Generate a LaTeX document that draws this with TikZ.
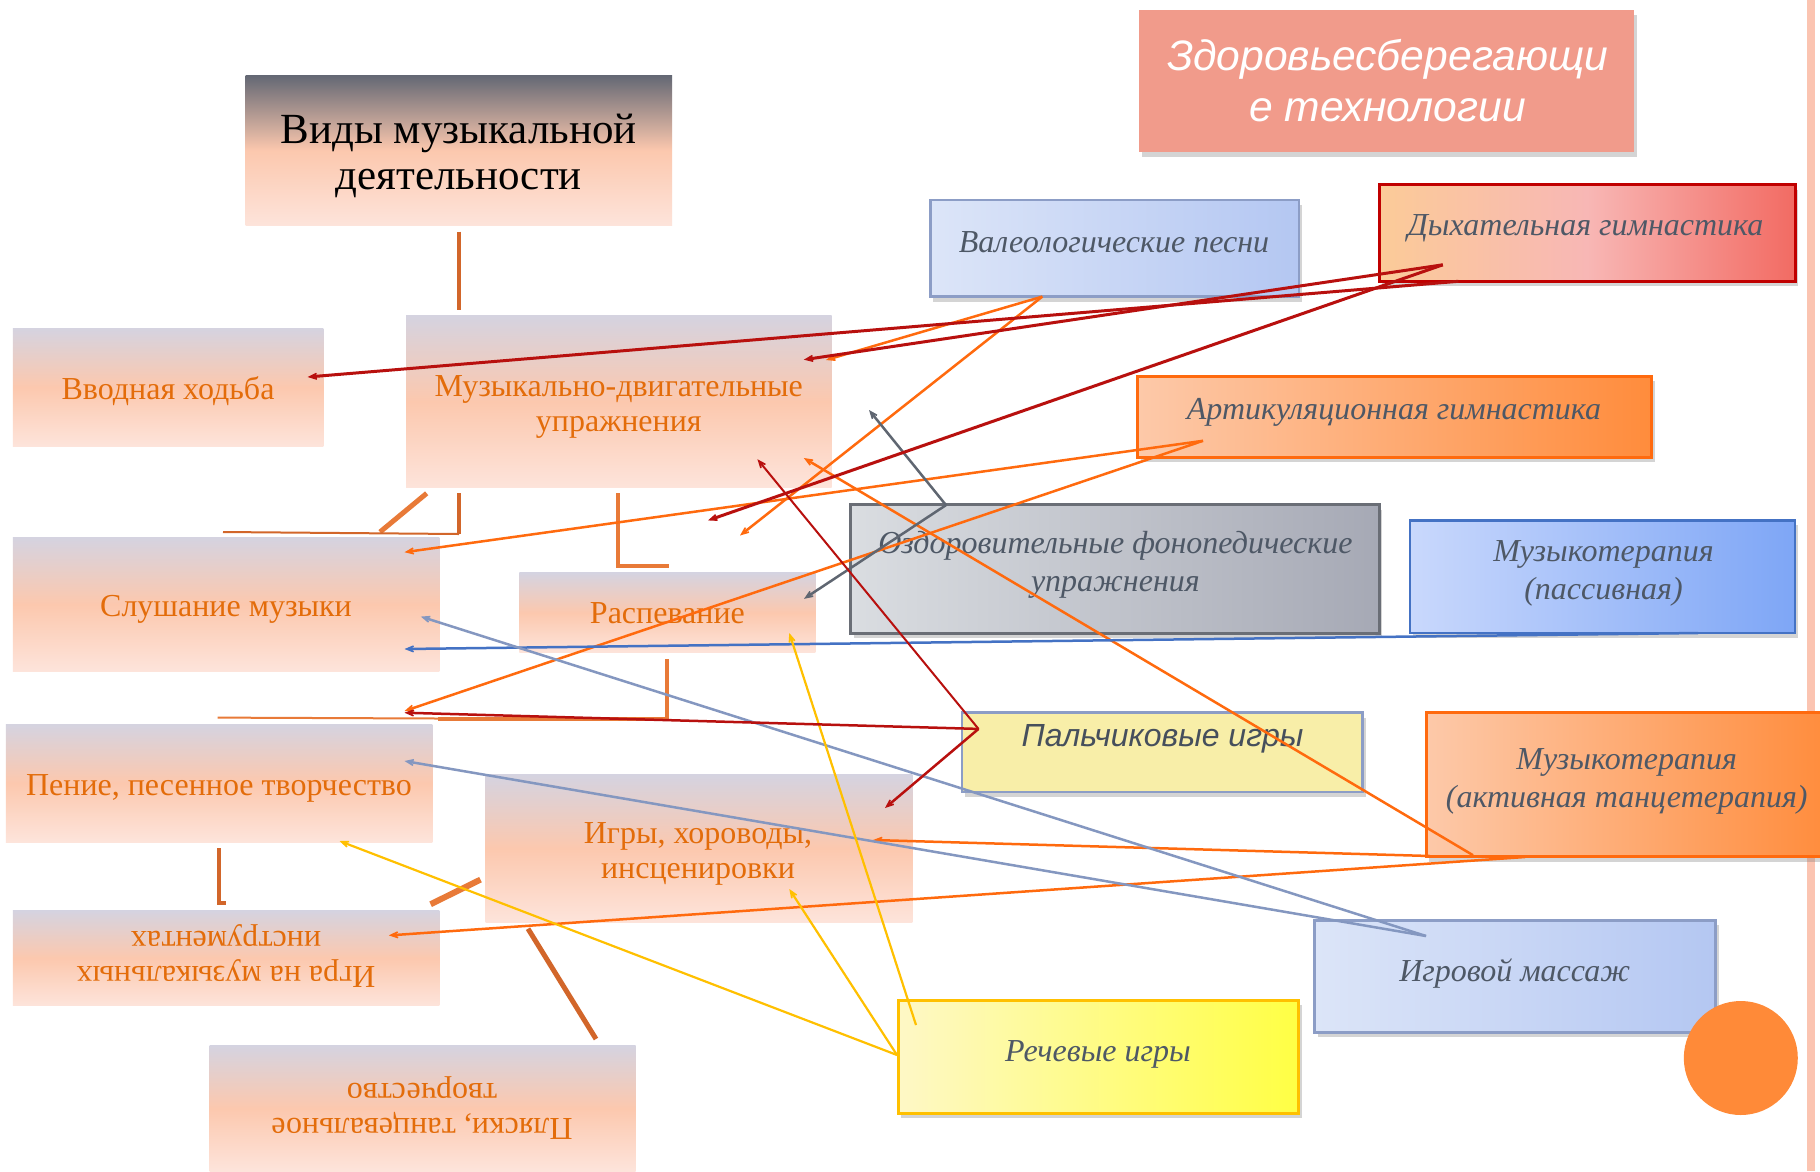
\documentclass[tikz,border=0pt]{standalone}
\usepackage{fontspec}
\setmainfont{Liberation Serif}
\newfontfamily\lsans{Liberation Sans}
\usetikzlibrary{arrows.meta,shadows}
\definecolor{pTop}{HTML}{D5D3E0}
\definecolor{pMid}{HTML}{FCC8AE}
\definecolor{pBot}{HTML}{FDE4DB}
\definecolor{vTop}{HTML}{646874}
\definecolor{ortext}{HTML}{E36C0A}
\definecolor{orgA}{HTML}{D2662A}
\definecolor{orgB}{HTML}{E87A38}
\definecolor{arRed}{HTML}{B8100E}
\definecolor{arOr}{HTML}{FF6A0E}
\definecolor{arGray}{HTML}{5F6671}
\definecolor{arBlue}{HTML}{4472C4}
\definecolor{arMas}{HTML}{8497C0}
\definecolor{arYel}{HTML}{FFC000}
\definecolor{gtext}{HTML}{4E5866}
\definecolor{stripc}{HTML}{FBC4B1}
\definecolor{zdorc}{HTML}{F19B8B}
\definecolor{blueB}{HTML}{8C9DC6}
\definecolor{lbL}{HTML}{DCE5F8}
\definecolor{lbR}{HTML}{B4C7F2}
\definecolor{dyL}{HTML}{FBCB98}
\definecolor{dyM}{HTML}{F8B7B5}
\definecolor{dyR}{HTML}{F26B63}
\definecolor{dyB}{HTML}{C00000}
\definecolor{orL}{HTML}{FDC9A9}
\definecolor{orR}{HTML}{FF8C3C}
\definecolor{gyL}{HTML}{DADDE1}
\definecolor{gyR}{HTML}{A6A9B5}
\definecolor{gyB}{HTML}{6A6E76}
\definecolor{bpL}{HTML}{C9D8FC}
\definecolor{bpR}{HTML}{7EA6F6}
\definecolor{palc}{HTML}{F8EEA8}
\definecolor{ryL}{HTML}{FEF8C6}
\definecolor{ryR}{HTML}{FFFF44}
\definecolor{circc}{HTML}{FF8A38}
\begin{document}
\begin{tikzpicture}[x=1pt,y=-1pt,
  peach/.style={rectangle,inner sep=0pt,draw=none,top color=pTop,bottom color=pBot,middle color=pMid},
  sz/.style 2 args={minimum width=#1pt,minimum height=#2pt},
  rbox/.style={rectangle,inner sep=0pt,line width=2.5pt,drop shadow={shadow xshift=3pt,shadow yshift=-5pt,opacity=0.3,fill=black!55}},
  lt/.style={align=center,text=ortext,font=\fontsize{32}{35}\selectfont,inner sep=0pt},
  rt/.style={align=center,text=gtext,font=\fontsize{32}{38}\selectfont\itshape,inner sep=0pt},
  org/.style={line width=4pt,draw=orgA},
  orgl/.style={line width=4pt,draw=orgB},
  orgt/.style={line width=2pt,draw=orgA},
  arr/.style={line width=2.5pt,-{Stealth[length=16pt,width=13pt,inset=10pt]}},
  ared/.style={arr,draw=arRed,fill=arRed},
  aor/.style={arr,draw=arOr,fill=arOr},
  agr/.style={arr,draw=arGray,fill=arGray},
  abl/.style={arr,draw=arBlue,fill=arBlue},
  ams/.style={arr,draw=arMas,fill=arMas},
  aye/.style={arr,draw=arYel,fill=arYel}
]
\useasboundingbox (0,0) rectangle (1820,1171);
\fill[white] (0,0) rectangle (1820,1171);
\fill[stripc] (1806.7,0) rectangle (1815,1171);

% left boxes
\node[peach,sz={426.5}{150.4},top color=vTop,bottom color=pBot,middle color=pMid] (vidy) at (458.8,150.6) {};
\node[peach,sz={310.5}{118.6}] (vvod) at (168,387.3) {};
\node[peach,sz={425.6}{172.2}] (muzdv) at (618.8,401.8) {};
\node[peach,sz={426.5}{134}] (slush) at (226,604.6) {};
\node[peach,sz={296}{79.9}] (rasp) at (667.4,612.8) {};
\node[peach,sz={426.6}{117.6}] (penie) at (219.1,783.2) {};
\node[peach,sz={426.6}{147.4}] (igry) at (699,848.6) {};
\node[peach,sz={426.5}{95.3}] (instr) at (226,958.3) {};
\node[peach,sz={426}{125.2}] (plyas) at (422.5,1108.4) {};

% right boxes
\node[rectangle,inner sep=0pt,fill=zdorc,sz={495}{142.7},drop shadow={shadow xshift=3pt,shadow yshift=-5pt,opacity=0.3,fill=black!55}] (zdor) at (1386.8,81) {};
\node[rbox,sz={368.5}{96.6},draw=blueB,left color=lbL,right color=lbR] (valeo) at (1114.5,248.3) {};
\node[rbox,sz={416}{96.5},line width=3pt,draw=dyB,left color=dyL,right color=dyR,middle color=dyM] (dyh) at (1587,233) {};
\node[rbox,sz={513.7}{81.1},line width=3pt,draw=arOr,left color=orL,right color=orR] (artik) at (1394.8,416.8) {};
\node[rbox,sz={528.2}{128.5},line width=3pt,draw=gyB,left color=gyL,right color=gyR] (ozdor) at (1114.9,569.2) {};
\node[rbox,sz={385}{112.3},draw=arBlue,left color=bpL,right color=bpR] (muzpas) at (1602.5,576.6) {};
\node[rbox,sz={400.5}{79.5},draw=blueB,fill=palc] (palch) at (1162.4,752.4) {};
\node[rbox,sz={403.5}{144.3},line width=3pt,draw=arOr,left color=orL,right color=orR] (muzakt) at (1628.2,784.8) {};
\node[rbox,sz={401}{111.9},draw=blueB,left color=lbL,right color=lbR] (mass) at (1515,976.3) {};
\node[rbox,sz={400.4}{113},line width=3pt,draw=arYel,left color=ryL,right color=ryR] (rech) at (1098.6,1056.8) {};
\node[circle,inner sep=0pt,minimum size=114pt,fill=circc] (circ) at (1740.8,1058) {};

% broken organisation-chart lines
\coordinate (o1a) at (459,231.5); \coordinate (o1b) at (459,310);
\draw[org] (o1a) -- (o1b);
\coordinate (o2a) at (426.7,493.3); \coordinate (o2b) at (380,532);
\draw[orgl,line width=5pt] (o2a) -- (o2b);
\coordinate (o3a) at (459,493.3); \coordinate (o3b) at (459,534); \coordinate (o3c) at (223,532);
\draw[org] (o3a) -- (o3b);
\draw[orgt] (o3c) -- (o3b);
\coordinate (o4a) at (618.3,493.3); \coordinate (o4b) at (618.3,565.6); \coordinate (o4c) at (669.3,565.6);
\draw[orgl] (o4a) -- (o4b) -- (o4c);
\coordinate (o5a) at (667.3,659.3); \coordinate (o5b) at (667.3,718.5); \coordinate (o5c) at (438,718.5); \coordinate (o5d) at (217.6,717.6);
\draw[orgl] (o5a) -- (o5b) -- (o5c);
\draw[orgt,draw=orgB] (o5c) -- (o5d);
\coordinate (o6a) at (219.4,848.4); \coordinate (o6b) at (219.4,903.4); \coordinate (o6c) at (226,903.4);
\draw[org] (o6a) -- (o6b) -- (o6c);
\coordinate (o7a) at (480.5,879.6); \coordinate (o7b) at (430.6,904.2);
\draw[orgl,line width=6pt] (o7a) -- (o7b);
\coordinate (o8a) at (528,928.7); \coordinate (o8b) at (596,1039);
\draw[orgl,line width=5pt,draw=orgA] (o8a) -- (o8b);

% texts
\node[lt,text=black,font=\fontsize{43}{46}\selectfont] (vidyT) at (458.8,155.5) {Виды музыкальной\\деятельности};
\node[lt] (vvodT) at (168,391) {Вводная ходьба};
\node[lt] (muzdvT) at (618.8,406.5) {Музыкально-двигательные\\упражнения};
\node[lt] (slushT) at (226,609.5) {Слушание музыки};
\node[lt] (raspT) at (667.4,613.5) {Распевание};
\node[lt] (penieT) at (219,788) {Пение, песенное творчество};
\node[lt] (igryT) at (698,854) {Игры, хороводы,\\инсценировки};
\node[lt,rotate=180] (instrT) at (226,956.5) {Игра на музыкальных\\инструментах};
\node[lt,rotate=180] (plyasT) at (422,1108.5) {Пляски, танцевальное\\творчество};

\node[align=center,text=white,font=\lsans\itshape\fontsize{42.6}{51}\selectfont,inner sep=0pt] (zdorT) at (1387.6,81) {Здоровьесберегающи\\е технологии};
\node[rt] (valeoT) at (1114,242) {Валеологические песни};
\node[rt] (dyhT) at (1585.5,228.5) {Дыхательная гимнастика};
\node[rt] (artikT) at (1394,412.5) {Артикуляционная гимнастика};
\node[rt] (ozdorT) at (1115.4,564.5) {Оздоровительные фонопедические\\упражнения};
\node[rt] (muzpasT) at (1603.5,573.5) {Музыкотерапия\\(пассивная)};
\node[rt,text=gtext!90!black,font=\lsans\itshape\fontsize{32}{38}\selectfont] (palchT) at (1162.5,738.5) {Пальчиковые игры};
\node[rt] (muzaktT) at (1626.7,781) {Музыкотерапия\\(активная танцетерапия)};
\node[rt] (massT) at (1514.7,974) {Игровой массаж};
\node[rt] (rechT) at (1098,1054) {Речевые игры};

% connector end points
\coordinate (dA) at (1442.8,264.8);
\coordinate (dB) at (1458.4,281.3);
\coordinate (eVvod) at (307.6,377);
\coordinate (eMd1) at (803.8,359.7);
\coordinate (eR3) at (708,520.4);
\coordinate (pS) at (978.5,728.9);
\coordinate (ePen1) at (404.5,712.7);
\coordinate (eMd2) at (757.4,459.2);
\coordinate (eIg1) at (885,808);
\coordinate (vS) at (1042.3,296.6);
\coordinate (eMd3) at (826,360);
\coordinate (eV2) at (740,535.5);
\coordinate (aS) at (1203,440.8);
\coordinate (eSl1) at (404.5,552.2);
\coordinate (ePen2) at (404.5,711);
\coordinate (maS1) at (1473,855.2);
\coordinate (eMd4) at (803.8,458);
\coordinate (maS2) at (1430,856);
\coordinate (eIg2) at (873,840);
\coordinate (maS3) at (1525,857);
\coordinate (eInst) at (388.8,935.4);
\coordinate (oS) at (946,505.1);
\coordinate (eG1) at (869,410);
\coordinate (eRasp1) at (804,598.8);
\coordinate (mpS) at (1698,633);
\coordinate (eSl2) at (404.5,649);
\coordinate (msS) at (1426,936);
\coordinate (eSl3) at (420.8,616.6);
\coordinate (ePen3) at (404.5,761);
\coordinate (rS1) at (897,1055);
\coordinate (rS2) at (916,1025);
\coordinate (ePen4) at (339.5,841);
\coordinate (eIg3) at (789.3,889);
\coordinate (eRasp2) at (789.3,633);

% arrows
\draw[aor] (vS) -- (eMd3);
\draw[aor] (vS) -- (eV2);
\draw[aor] (aS) -- (eSl1);
\draw[aor] (aS) -- (ePen2);
\draw[aor] (maS1) -- (eMd4);
\draw[aor] (maS2) -- (eIg2);
\draw[aor] (maS3) -- (eInst);
\draw[agr] (oS) -- (eG1);
\draw[agr] (oS) -- (eRasp1);
\draw[abl] (mpS) -- (eSl2);
\draw[ams] (msS) -- (eSl3);
\draw[ams] (msS) -- (ePen3);
\draw[aye,line width=2.2pt] (rS1) -- (ePen4);
\draw[aye,line width=2.2pt] (rS1) -- (eIg3);
\draw[aye,line width=2.2pt] (rS2) -- (eRasp2);
\draw[ared,line width=3pt] (dB) -- (eVvod);
\draw[ared,line width=3pt] (dA) -- (eMd1);
\draw[ared,line width=3pt] (dA) -- (eR3);
\draw[ared] (pS) -- (ePen1);
\draw[ared,line width=2pt] (pS) -- (eMd2);
\draw[ared] (pS) -- (eIg1);
\end{tikzpicture}
\end{document}
